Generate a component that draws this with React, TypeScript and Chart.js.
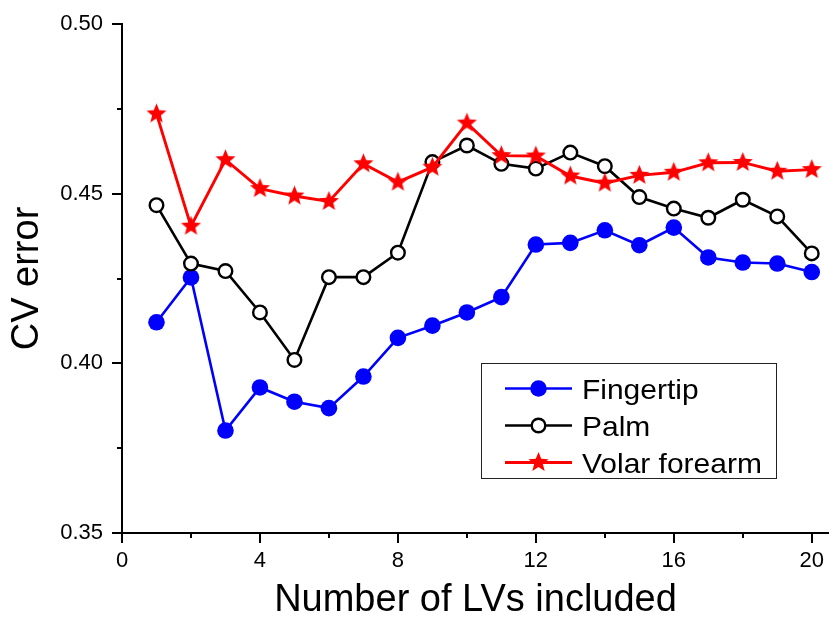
import React, { useEffect, useRef } from 'react';
import { Chart, registerables } from 'chart.js';

Chart.register(...registerables);

// Cross-validation error vs. number of latent variables
const lvCounts = [1, 2, 3, 4, 5, 6, 7, 8, 9, 10, 11, 12, 13, 14, 15, 16, 17, 18, 19, 20];
const fingertip = [0.4121, 0.4253, 0.3802, 0.3929, 0.3887, 0.3868, 0.3961, 0.4075, 0.4111, 0.415,
  0.4195, 0.435, 0.4355, 0.4392, 0.4348, 0.44, 0.4312, 0.4297, 0.4294, 0.4269];
const palm = [0.4466, 0.4294, 0.4272, 0.415, 0.401, 0.4254, 0.4254, 0.4326, 0.4593, 0.4642,
  0.4588, 0.4574, 0.4621, 0.4581, 0.449, 0.4456, 0.4429, 0.4482, 0.4433, 0.4324];
const volarForearm = [0.4735, 0.4404, 0.46, 0.4515, 0.4493, 0.4477, 0.4588, 0.4534, 0.4578, 0.4708,
  0.4612, 0.4611, 0.4552, 0.4531, 0.4554, 0.4563, 0.4591, 0.4592, 0.4566, 0.4571];
const seriesNames = ['Fingertip', 'Palm', 'Volar forearm'];

const xMajorTicks = [0, 4, 8, 12, 16, 20];
const xMinorTicks = [2, 6, 10, 14, 18];
const yMajorTicks = [0.35, 0.4, 0.45, 0.5];
const yMinorTicks = [0.375, 0.425, 0.475];

const FONT = "'Liberation Sans', Arial, Helvetica, sans-serif";

function makeStar(color: string, outer: number, inner: number): HTMLCanvasElement {
  const size = Math.ceil(outer * 2 + 2);
  const c = document.createElement('canvas');
  c.width = size;
  c.height = size;
  const g = c.getContext('2d')!;
  g.beginPath();
  for (let i = 0; i < 10; i++) {
    const r = i % 2 === 0 ? outer : inner;
    const a = -Math.PI / 2 + (i * Math.PI) / 5;
    const px = size / 2 + r * Math.cos(a);
    const py = size / 2 + r * Math.sin(a);
    if (i === 0) g.moveTo(px, py);
    else g.lineTo(px, py);
  }
  g.closePath();
  g.fillStyle = color;
  g.fill();
  return c;
}

// Short unlabeled ticks between the major ones
const minorTicksPlugin = {
  id: 'minorTicks',
  afterDraw(chart: any) {
    const { ctx, scales, chartArea } = chart;
    ctx.save();
    ctx.strokeStyle = '#000';
    ctx.lineWidth = 2;
    ctx.beginPath();
    xMinorTicks.forEach((v) => {
      const px = Math.round(scales.x.getPixelForValue(v));
      ctx.moveTo(px, chartArea.bottom);
      ctx.lineTo(px, chartArea.bottom + 5);
    });
    yMinorTicks.forEach((v) => {
      const py = Math.round(scales.y.getPixelForValue(v));
      ctx.moveTo(chartArea.left, py);
      ctx.lineTo(chartArea.left - 5, py);
    });
    ctx.stroke();
    ctx.restore();
  },
};

// Boxed legend inside the plot area
const boxLegendPlugin = {
  id: 'boxLegend',
  afterDraw(chart: any) {
    const { ctx } = chart;
    const box = { left: 481, top: 363, width: 295, height: 115 };
    ctx.save();
    ctx.strokeStyle = '#222';
    ctx.lineWidth = 1;
    ctx.strokeRect(box.left + 0.5, box.top + 0.5, box.width, box.height);
    chart.data.datasets.forEach((ds: any, i: number) => {
      const cy = box.top + 25.5 + i * 37;
      const x0 = box.left + 24;
      const x1 = box.left + 91;
      const mx = (x0 + x1) / 2;
      ctx.strokeStyle = ds.borderColor;
      ctx.lineWidth = ds.borderWidth;
      ctx.beginPath();
      ctx.moveTo(x0, cy);
      ctx.lineTo(x1, cy);
      ctx.stroke();
      if (ds.pointStyle instanceof HTMLCanvasElement) {
        const img = ds.pointStyle;
        ctx.drawImage(img, mx - img.width / 2, cy - img.height / 2);
      } else {
        ctx.beginPath();
        ctx.arc(mx, cy, ds.pointRadius, 0, Math.PI * 2);
        ctx.fillStyle = ds.pointBackgroundColor;
        ctx.fill();
        if (ds.pointBorderWidth > 0) {
          ctx.lineWidth = ds.pointBorderWidth;
          ctx.strokeStyle = ds.pointBorderColor;
          ctx.stroke();
        }
      }
      ctx.save();
      ctx.translate(box.left + 101, cy + 10.5);
      ctx.scale(1.07, 1);
      ctx.fillStyle = '#000';
      ctx.font = `28px ${FONT}`;
      ctx.textBaseline = 'alphabetic';
      ctx.textAlign = 'left';
      ctx.fillText(seriesNames[i], 0, 0);
      ctx.restore();
    });
    ctx.restore();
  },
};

export default function App() {
  const canvasRef = useRef<HTMLCanvasElement | null>(null);

  useEffect(() => {
    document.body.style.margin = '0';
    const canvas = canvasRef.current;
    if (!canvas) return;

    const star = makeStar('#ff0000', 10.5, 4.6);
    const toPoints = (ys: number[]) => lvCounts.map((x, i) => ({ x, y: ys[i] }));

    const chart = new Chart(canvas, {
      type: 'line',
      data: {
        datasets: [
          {
            label: seriesNames[0],
            data: toPoints(fingertip),
            borderColor: '#0000ff',
            borderWidth: 2.6,
            pointStyle: 'circle',
            pointRadius: 8.3,
            pointBackgroundColor: '#0000ff',
            pointBorderColor: '#0000ff',
            pointBorderWidth: 0,
            order: 3,
          },
          {
            label: seriesNames[1],
            data: toPoints(palm),
            borderColor: '#000000',
            borderWidth: 2.6,
            pointStyle: 'circle',
            pointRadius: 6.8,
            pointBackgroundColor: '#ffffff',
            pointBorderColor: '#000000',
            pointBorderWidth: 2.4,
            order: 2,
          },
          {
            label: seriesNames[2],
            data: toPoints(volarForearm),
            borderColor: '#ff0000',
            borderWidth: 2.9,
            pointStyle: star as any,
            pointRadius: 10,
            pointBackgroundColor: '#ff0000',
            pointBorderColor: '#ff0000',
            pointBorderWidth: 0,
            order: 1,
          },
        ] as any,
      },
      options: {
        responsive: false,
        animation: false,
        events: [],
        layout: { autoPadding: false, padding: { top: 24, right: 0, bottom: 0, left: 0 } },
        plugins: {
          legend: { display: false },
          tooltip: { enabled: false },
        },
        scales: {
          x: {
            type: 'linear',
            min: 0,
            max: 20.5,
            afterBuildTicks: (scale: any) => {
              scale.ticks = xMajorTicks.map((value) => ({ value }));
            },
            afterFit: (scale: any) => {
              scale.height = 87;
            },
            grid: {
              drawOnChartArea: false,
              drawTicks: true,
              tickLength: 10,
              color: '#000',
              lineWidth: 2,
            },
            border: { display: true, color: '#000', width: 2 },
            ticks: {
              color: '#000',
              font: { family: FONT, size: 22 },
              padding: 5,
              maxRotation: 0,
              callback: (v: any) => String(v),
            },
            title: {
              display: true,
              text: 'Number of LVs included',
              color: '#000',
              font: { family: FONT, size: 38, lineHeight: 1.0 },
              padding: { top: 0, bottom: 0 },
            },
          },
          y: {
            type: 'linear',
            min: 0.35,
            max: 0.5,
            afterBuildTicks: (scale: any) => {
              scale.ticks = yMajorTicks.map((value) => ({ value }));
            },
            afterFit: (scale: any) => {
              scale.width = 122;
            },
            grid: {
              drawOnChartArea: false,
              drawTicks: true,
              tickLength: 10,
              color: '#000',
              lineWidth: 2,
            },
            border: { display: true, color: '#000', width: 2 },
            ticks: {
              color: '#000',
              font: { family: FONT, size: 22 },
              padding: 9,
              callback: (v: any) => Number(v).toFixed(2),
            },
            title: {
              display: true,
              text: 'CV error',
              color: '#000',
              font: { family: FONT, size: 38, lineHeight: 1.2 },
              padding: { top: 5, bottom: 0 },
            },
          },
        },
      } as any,
      plugins: [minorTicksPlugin, boxLegendPlugin],
    });

    return () => chart.destroy();
  }, []);

  return (
    <div style={{ width: 829, height: 620, background: '#fff', overflow: 'hidden' }}>
      <canvas ref={canvasRef} width={829} height={620} style={{ display: 'block' }} />
    </div>
  );
}
